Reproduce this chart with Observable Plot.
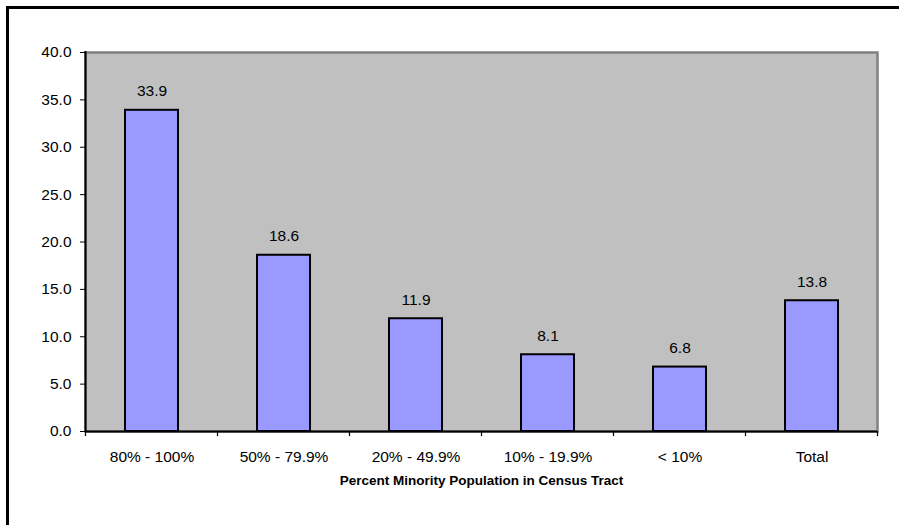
<!DOCTYPE html>
<html>
<head>
<meta charset="utf-8">
<script src="https://cdn.jsdelivr.net/npm/d3@7"></script>
<script src="https://cdn.jsdelivr.net/npm/@observablehq/plot@0.6"></script>
<style>
  html, body { margin: 0; padding: 0; background: #fff; overflow: hidden; width: 899px; height: 525px; }
  #frame { position: absolute; left: 6px; top: 6px; width: 1000px; height: 700px;
           border-left: 3px solid #000; border-top: 3px solid #000; }
  #chart { position: absolute; left: 0; top: 0; }
  #chart svg { background: transparent !important; }
</style>
</head>
<body>
<div id="frame"></div>
<div id="chart"></div>
<script>
const categories = ["80% - 100%", "50% - 79.9%", "20% - 49.9%", "10% - 19.9%", "< 10%", "Total"];
const values = [33.9, 18.6, 11.9, 8.1, 6.8, 13.8];
const yTicks = [0, 5, 10, 15, 20, 25, 30, 35, 40];
const xTitle = "Percent Minority Population in Census Tract";

const data = categories.map((c, i) => ({cat: c, value: values[i]}));
const font = "'Liberation Sans', Arial, sans-serif";

const chart = Plot.plot({
  width: 899,
  height: 525,
  marginLeft: 85,
  marginRight: 22,
  marginTop: 52,
  marginBottom: 94,
  style: {fontFamily: font, fontSize: "15.5px", color: "#000", background: "transparent"},
  x: {domain: categories, paddingInner: 0.6, paddingOuter: 0.3, label: null},
  y: {domain: [0, 40], label: null},
  marks: [
    Plot.frame({fill: "#c0c0c0", stroke: "#808080", strokeWidth: 2.5}),
    Plot.barY(data, {x: "cat", y: "value", fill: "#9999ff", stroke: "#000", strokeWidth: 2}),
    Plot.text(data, {x: "cat", y: "value", text: d => d.value.toFixed(1), dy: -19, fontSize: 15.5, fill: "#000"}),
    Plot.ruleY([0], {stroke: "#000", strokeWidth: 2}),
    Plot.axisY({ticks: yTicks, tickFormat: d => d.toFixed(1), tickSize: 5, tickPadding: 9, fontSize: 15.5, label: null}),
    Plot.axisX({tickSize: 0, tickPadding: 19, fontSize: 15.5, label: null}),
    Plot.text([xTitle], {frameAnchor: "bottom", dy: 53, fontWeight: "bold", fontSize: 13.5, fill: "#000"})
  ]
});

// category boundary ticks and the left axis line, placed from the plot's own scales
const xs = chart.scale("x");
const ys = chart.scale("y");
const gap = (xs.step - xs.bandwidth) / 2;
const bounds = categories.map(c => xs.apply(c) - gap);
bounds.push(xs.apply(categories[categories.length - 1]) + xs.bandwidth + gap);
const y0 = ys.apply(0), y1 = ys.apply(40);
const g = d3.select(chart).append("g");
g.selectAll("line.b").data(bounds).join("line")
  .attr("x1", d => d).attr("x2", d => d)
  .attr("y1", y0).attr("y2", y0 + 5)
  .attr("stroke", "#000").attr("stroke-width", 1.2);
g.append("line")
  .attr("x1", bounds[0]).attr("x2", bounds[0])
  .attr("y1", y1 - 1).attr("y2", y0 + 1)
  .attr("stroke", "#000").attr("stroke-width", 2);

document.getElementById("chart").appendChild(chart);
</script>
</body>
</html>
